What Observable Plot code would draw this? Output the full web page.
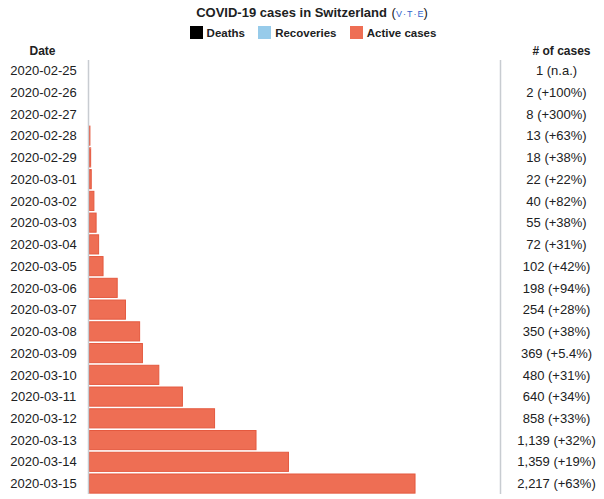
<!DOCTYPE html>
<html>
<head>
<meta charset="utf-8">
<script src="https://cdn.jsdelivr.net/npm/d3@7"></script>
<script src="https://cdn.jsdelivr.net/npm/@observablehq/plot@0.6"></script>
<style>
  body { margin: 0; background: #fff; font-family: "Liberation Sans", Arial, sans-serif; }
  #wrap { width: 604px; }
  .title { height: 22px; padding-top: 5px; box-sizing: border-box; padding-left: 20px; text-align: center; font-weight: bold; font-size: 13px; color: #202122; line-height: 16px; white-space: nowrap; }
  .vte { font-weight: normal; font-size: 13px; margin-left: 1px; }
  .vte span { color: #3366cc; font-size: 9px; }
  .vte i { font-style: normal; font-size: 9px; color: #3366cc; margin: 0 1px; }
  .legend { height: 18px; padding-top: 3px; box-sizing: border-box; padding-left: 22px; text-align: center; font-size: 11.5px; font-weight: bold; color: #202122; line-height: 16px; white-space: nowrap; }
  .sw { display: inline-block; width: 13px; height: 13px; vertical-align: -2px; margin-right: 4px; }
  .item { margin: 0 5px; }
  #chart svg { display: block; }
</style>
</head>
<body>
<div id="wrap">
  <div class="title">COVID-19 cases in Switzerland <span class="vte">(<span>V</span><i>·</i><span>T</span><i>·</i><span>E</span>)</span></div>
  <div class="legend">
    <span class="item"><span class="sw" style="background:#000"></span>Deaths</span>
    <span class="item"><span class="sw" style="background:#97cbea"></span>Recoveries</span>
    <span class="item"><span class="sw" style="background:#ee6e54"></span>Active cases</span>
  </div>
  <div id="chart"></div>
</div>
<script>
const dates = ["2020-02-25","2020-02-26","2020-02-27","2020-02-28","2020-02-29","2020-03-01","2020-03-02","2020-03-03","2020-03-04","2020-03-05","2020-03-06","2020-03-07","2020-03-08","2020-03-09","2020-03-10","2020-03-11","2020-03-12","2020-03-13","2020-03-14","2020-03-15"];
const deaths = [0,0,0,0,0,0,0,0,0,0,0,0,0,0,0,0,0,0,0,0];
const recoveries = [0,0,0,0,0,0,0,0,0,0,0,0,0,0,0,0,0,0,0,0];
const cases = [1,2,8,13,18,22,40,55,72,102,198,254,350,369,480,640,858,1139,1359,2217];
const changes = ["n.a.","+100%","+300%","+63%","+38%","+22%","+82%","+38%","+31%","+42%","+94%","+28%","+38%","+5.4%","+31%","+34%","+33%","+32%","+19%","+63%"];
const xMax = 2793;

const rows = dates.map((d, i) => ({
  date: d, deaths: deaths[i], recoveries: recoveries[i],
  active: cases[i] - deaths[i] - recoveries[i], total: cases[i],
  label: d3.format(",")(cases[i]) + " (" + changes[i] + ")"
}));
const stacked = [];
rows.forEach(r => {
  stacked.push({date: r.date, kind: "Deaths", x1: 0, x2: r.deaths});
  stacked.push({date: r.date, kind: "Recoveries", x1: r.deaths, x2: r.deaths + r.recoveries});
  stacked.push({date: r.date, kind: "Active cases", x1: r.deaths + r.recoveries, x2: r.total});
});
const colors = {"Deaths": "#000000", "Recoveries": "#97cbea", "Active cases": "#ee6e54"};
const strokes = {"Deaths": "#000000", "Recoveries": "#7fb5d9", "Active cases": "#e4593f"};

const chart = Plot.plot({
  width: 604,
  height: 454,
  marginTop: 20,
  marginBottom: 0,
  marginLeft: 88,
  marginRight: 104,
  style: {fontFamily: "Liberation Sans, Arial, sans-serif", fontSize: "13px", color: "#202122", background: "#fff"},
  x: {domain: [0, xMax], axis: null},
  y: {domain: dates, axis: null, paddingInner: 0.12, paddingOuter: 0.04, round: false},
  marks: [
    Plot.barX(stacked.filter(d => d.x2 > d.x1), {
      y: "date", x1: "x1", x2: "x2", insetLeft: 1.5,
      fill: d => colors[d.kind], stroke: d => strokes[d.kind], strokeWidth: 1
    }),
    Plot.ruleX([0, xMax], {stroke: "#c8ccd1", strokeWidth: 1.5}),
    Plot.text(rows, {y: "date", text: "date", frameAnchor: "left", dx: -45, textAnchor: "middle", fontSize: 13, fill: "#202122"}),
    Plot.text(rows, {y: "date", text: "label", frameAnchor: "right", dx: 56, textAnchor: "middle", fontSize: 13, fill: "#202122"}),
    Plot.text(["Date"], {frameAnchor: "top-left", lineAnchor: "middle", dx: -46, dy: -9, textAnchor: "middle", fontWeight: "bold", fontSize: 12, text: d => d}),
    Plot.text(["# of cases"], {frameAnchor: "top-right", lineAnchor: "middle", dx: 61, dy: -9, textAnchor: "middle", fontWeight: "bold", fontSize: 12, text: d => d})
  ]
});
document.getElementById("chart").appendChild(chart);
</script>
</body>
</html>
